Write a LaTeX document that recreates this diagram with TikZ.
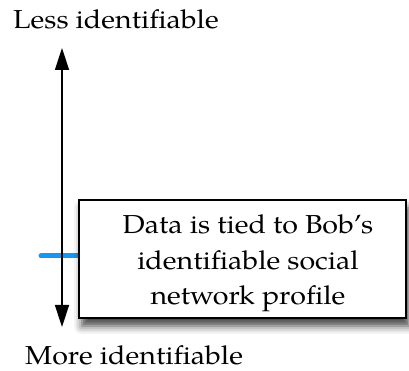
\documentclass[tikz,border=0pt]{standalone}
\usepackage{fontspec}
\setmainfont{texgyrepagella-regular.otf}[FakeStretch=1.1]
\usetikzlibrary{arrows.meta,shadows.blur,backgrounds}
\definecolor{tickblue}{RGB}{25,150,240}
\tikzset{
  lbl/.style={anchor=base west,inner sep=0pt,font=\fontsize{26}{35.5}\selectfont},
  axis/.style={line width=1.5pt,{Triangle[length=22pt,width=14pt]}-{Triangle[length=22pt,width=14pt]}},
  tickline/.style={line width=5pt,tickblue,line cap=round},
  infobox/.style={draw,line width=1.5pt,fill=white,minimum width=327pt,minimum height=118pt,inner sep=0pt,
    blur shadow={shadow xshift=3pt,shadow yshift=-8pt,shadow blur radius=8pt,shadow opacity=75}},
  boxtext/.style={align=center,anchor=base,inner sep=0pt,font=\fontsize{26}{35.5}\selectfont}
}
\begin{document}
\begin{tikzpicture}[x=1pt,y=1pt]
\useasboundingbox (0,0) rectangle (409,371);
\node[lbl] (less) at (13,342) {Less identifiable};
\node[lbl] (more) at (25,6) {More identifiable};
\coordinate (atop) at (62,323);
\coordinate (abot) at (62,44);
\draw[axis] (atop) -- (abot);
\node[infobox] (box) at (242.5,112) {};
\coordinate (tick) at (41,115);
\begin{pgfonlayer}{background}
\draw[tickline] (tick) -- (tick -| box.west);
\end{pgfonlayer}
\node[boxtext] (txt) at (248,66) {Data is tied to Bob's\\identifiable social\\network profile};
\end{tikzpicture}
\end{document}
